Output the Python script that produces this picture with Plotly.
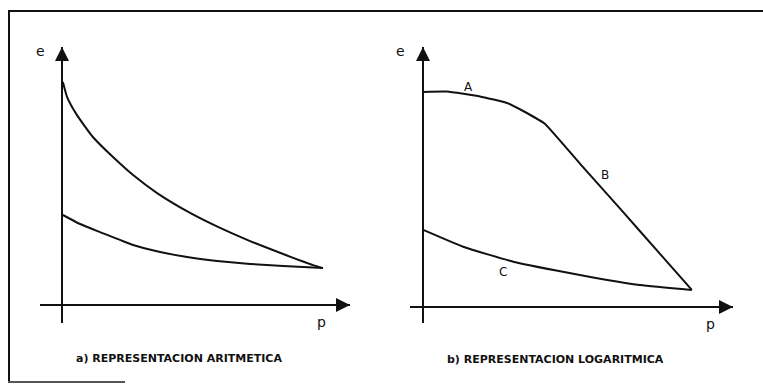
import plotly.graph_objects as go

# ---- data (arbitrary units) ----
arit_upper_x = [0.03, 0.17, 0.5, 1.03, 1.7, 2.37, 3.17, 4.27, 5.27, 6.27, 7.37, 8.37, 8.7]
arit_upper_y = [7.43, 6.93, 6.33, 5.6, 4.93, 4.33, 3.73, 3.07, 2.57, 2.13, 1.7, 1.33, 1.23]
arit_lower_x = [0.03, 0.6, 1.27, 2.37, 3.27, 4.17, 5.17, 6.27, 7.37, 8.7]
arit_lower_y = [3.0, 2.7, 2.43, 2.0, 1.77, 1.6, 1.47, 1.37, 1.3, 1.23]

log_ab_x = [0.0, 0.8, 1.9, 2.8, 3.4, 4.07, 5.23, 6.57, 7.9, 8.96]
log_ab_y = [7.17, 7.18, 7.02, 6.8, 6.5, 6.1, 4.78, 3.28, 1.77, 0.57]
log_c_x = [0.01, 1.34, 3.01, 5.23, 7.23, 8.96]
log_c_y = [2.57, 2.01, 1.51, 1.07, 0.73, 0.57]

seg_labels = ["A", "B", "C"]
seg_label_x = [1.5, 6.07, 2.67]
seg_label_y = [7.33, 4.4, 1.17]

captions = ["a) REPRESENTACION ARITMETICA", "b) REPRESENTACION LOGARITMICA"]
axis_names = ["e", "p"]

left_xrange = [-0.7333, 9.6]
left_yrange = [-0.6, 8.6]
right_xrange = [-0.4333, 10.3333]
right_yrange = [-0.5333, 8.6667]

W, H = 763, 385
ink = "#111111"

fig = go.Figure()
line_style = dict(color=ink, width=2, shape="spline", smoothing=0.5)
fig.add_trace(go.Scatter(x=arit_upper_x, y=arit_upper_y, mode="lines", line=line_style, xaxis="x", yaxis="y"))
fig.add_trace(go.Scatter(x=arit_lower_x, y=arit_lower_y, mode="lines", line=line_style, xaxis="x", yaxis="y"))
fig.add_trace(go.Scatter(x=log_ab_x, y=log_ab_y, mode="lines", line=dict(color=ink, width=2, shape="spline", smoothing=0.3),
                         xaxis="x2", yaxis="y2"))
fig.add_trace(go.Scatter(x=log_c_x, y=log_c_y, mode="lines", line=line_style, xaxis="x2", yaxis="y2"))

ax_common = dict(showgrid=False, showticklabels=False, ticks="", showline=False,
                 zeroline=True, zerolinecolor=ink, zerolinewidth=2, fixedrange=True)

fig.update_layout(
    width=W, height=H, margin=dict(l=0, r=0, t=0, b=0),
    paper_bgcolor="white", plot_bgcolor="rgba(0,0,0,0)", showlegend=False,
    xaxis=dict(domain=[40 / W, 350 / W], range=left_xrange, anchor="y", **ax_common),
    yaxis=dict(domain=[1 - 323 / H, 1 - 47 / H], range=left_yrange, anchor="x", **ax_common),
    xaxis2=dict(domain=[410 / W, 733 / W], range=right_xrange, anchor="y2", **ax_common),
    yaxis2=dict(domain=[1 - 323 / H, 1 - 47 / H], range=right_yrange, anchor="x2", **ax_common),
)

annotations = []
for xr, yr, xa, ya in [(left_xrange, left_yrange, "x", "y"), (right_xrange, right_yrange, "x2", "y2")]:
    # arrowheads on the axes
    annotations.append(dict(x=0, y=yr[1], xref=xa, yref=ya, ax=0, ay=14, text="", showarrow=True,
                            arrowhead=2, arrowsize=1.4, arrowwidth=2, arrowcolor=ink))
    annotations.append(dict(x=xr[1], y=0, xref=xa, yref=ya, ax=-14, ay=0, text="", showarrow=True,
                            arrowhead=2, arrowsize=1.4, arrowwidth=2, arrowcolor=ink))

label_font = dict(family="DejaVu Sans", size=14, color=ink)
# axis names (paper coordinates so they may sit outside the plot areas)
for txt, px, py in [(axis_names[0], 40, 51), (axis_names[1], 321, 322),
                    (axis_names[0], 400, 51), (axis_names[1], 710, 324)]:
    annotations.append(dict(x=px / W, y=1 - py / H, xref="paper", yref="paper", text=txt,
                            xanchor="center", yanchor="middle", showarrow=False, font=label_font))

for t, lx, ly in zip(seg_labels, seg_label_x, seg_label_y):
    annotations.append(dict(x=lx, y=ly, xref="x2", yref="y2", text=t, showarrow=False,
                            xanchor="center", yanchor="middle",
                            font=dict(family="DejaVu Sans", size=12, color=ink)))

cap_font = dict(family="DejaVu Sans", size=11, color=ink, weight="bold")
annotations.append(dict(x=179 / W, y=1 - 358 / H, xref="paper", yref="paper", text=captions[0],
                        xanchor="center", yanchor="middle", showarrow=False, font=cap_font))
annotations.append(dict(x=555 / W, y=1 - 359 / H, xref="paper", yref="paper", text=captions[1],
                        xanchor="center", yanchor="middle", showarrow=False, font=cap_font))
fig.update_layout(annotations=annotations)

# scanned page frame
fig.add_shape(type="line", xref="paper", yref="paper", x0=8 / W, x1=1, y0=1 - 11 / H, y1=1 - 11 / H,
              line=dict(color=ink, width=2))
fig.add_shape(type="line", xref="paper", yref="paper", x0=9 / W, x1=9 / W, y0=1 - 10 / H, y1=1 - 383 / H,
              line=dict(color=ink, width=2))
fig.add_shape(type="line", xref="paper", yref="paper", x0=8 / W, x1=125 / W, y0=1 - 382 / H, y1=1 - 382 / H,
              line=dict(color="#555555", width=2))

fig.write_html("out.html", config={"displayModeBar": False},
               post_script="document.body.style.margin='0px';")
